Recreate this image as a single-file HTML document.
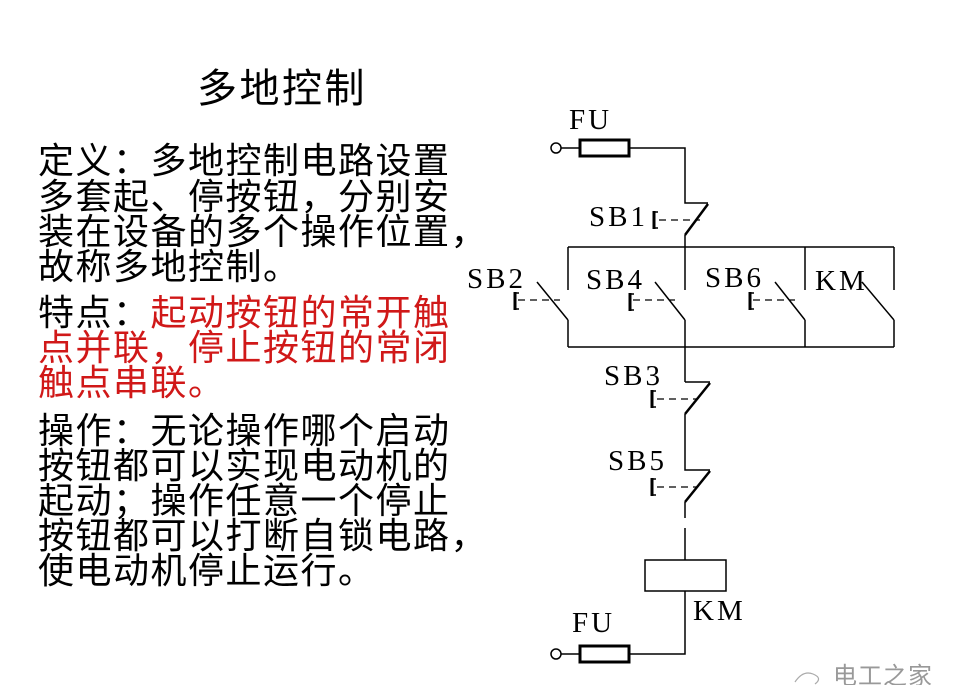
<!DOCTYPE html>
<html><head><meta charset="utf-8"><style>
body{margin:0;width:960px;height:685px;background:#fff;overflow:hidden;position:relative}
.t{position:absolute;left:38px;font-family:"WenQuanYi Zen Hei","Noto Sans CJK SC",sans-serif;font-size:36px;line-height:36px;letter-spacing:1.5px;white-space:nowrap;color:#000}
.r{color:#d01818}
svg{position:absolute;left:0;top:0}
</style></head><body>
<div class="t" style="left:197px;top:67px;font-size:40px;letter-spacing:2.5px">多地控制</div>
<div class="t" style="top:140px">定义：多地控制电路设置</div>
<div class="t" style="top:176px">多套起、停按钮，分别安</div>
<div class="t" style="top:211px">装在设备的多个操作位置，</div>
<div class="t" style="top:246px">故称多地控制。</div>
<div class="t" style="top:292px">特点：<span class="r">起动按钮的常开触</span></div>
<div class="t r" style="top:327px">点并联，停止按钮的常闭</div>
<div class="t r" style="top:362px">触点串联。</div>
<div class="t" style="top:410px">操作：无论操作哪个启动</div>
<div class="t" style="top:445px">按钮都可以实现电动机的</div>
<div class="t" style="top:480px">起动；操作任意一个停止</div>
<div class="t" style="top:515px">按钮都可以打断自锁电路，</div>
<div class="t" style="top:550px">使电动机停止运行。</div>
<svg width="960" height="685" viewBox="0 0 960 685" font-family="Liberation Serif, serif" font-size="29" letter-spacing="3" fill="none" stroke="#000" stroke-width="1.5">
<g fill="#000" stroke="none">
<text x="569" y="129">FU</text>
<text x="589" y="226">SB1</text>
<text x="467" y="288">SB2</text>
<text x="586" y="289">SB4</text>
<text x="705" y="287">SB6</text>
<text x="815" y="290">KM</text>
<text x="604" y="385">SB3</text>
<text x="608" y="470">SB5</text>
<text x="693" y="620">KM</text>
<text x="572" y="632">FU</text>
<text x="833" y="684" font-family="WenQuanYi Zen Hei, sans-serif" font-size="24" fill="#999" letter-spacing="1">电工之家</text>
</g>
<path d="M795 682 q8 -12 18 -8 q10 4 2 10" stroke="#aaa" stroke-width="1.2"/>
<!-- top fuse -->
<circle cx="556" cy="148" r="5"/>
<path d="M561 148H580M629 148H685V203H708"/>
<rect x="580" y="140" width="49" height="16" stroke-width="3"/>
<path d="M708 204L685 235" stroke-width="2.5"/>
<path d="M685 235V247"/>
<!-- rails -->
<path d="M568 247H894M568 347H894"/>
<path d="M568 247V290M568 320V347M537 282L568 320"/>
<path d="M685 247V290M685 320V382M655 282L685 320"/>
<path d="M805 247V290M805 320V347M775 282L805 320"/>
<path d="M894 247V290M894 320V347M862 282L894 320"/>
<!-- NO buttons -->
<g stroke-width="1.3" stroke-dasharray="7,5"><path d="M518 300H560M633 300H675M753 300H795M659 220H700M657 399H698M657 487H698"/></g>
<g stroke-width="3"><path d="M515 292V310M630 293V311M750 292V310M654 211V229M652 390V408M652 478V496"/></g>
<path d="M514 293H519M514 309H519M629 294H634M629 310H634M749 293H754M749 309H754M653 212H658M653 228H658M651 391H656M651 407H656M651 479H656M651 495H656" stroke-width="1.5"/>
<!-- SB3 -->
<path d="M685 382H710"/>
<path d="M710 383L685 414M710 471L685 502" stroke-width="2.5"/>
<path d="M685 414V470H710"/>
<path d="M685 502V518M685 528V560"/>
<rect x="645" y="560" width="81" height="31"/>
<path d="M685 591V654H629M580 654H561"/>
<rect x="580" y="646" width="49" height="16" stroke-width="3"/>
<circle cx="556" cy="654" r="5"/>
</svg>
</body></html>
